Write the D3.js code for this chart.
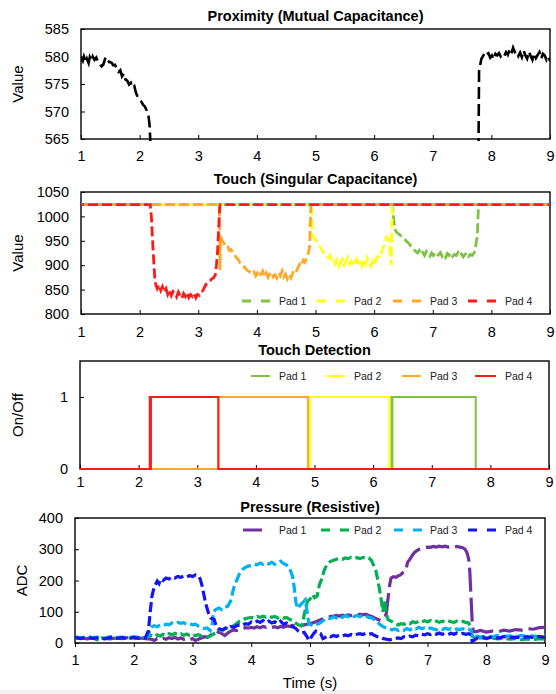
<!DOCTYPE html>
<html>
<head>
<meta charset="utf-8">
<script src="https://cdn.jsdelivr.net/npm/d3@7"></script>
<style>
body { margin: 0; background: #fff; }
svg { display: block; font-family: "Liberation Sans", Arial, sans-serif; }
</style>
</head>
<body>
<svg id="chart"></svg>
<script>
// ---- data ----
const timeTicks = [1, 2, 3, 4, 5, 6, 7, 8, 9];
const padNames = ["Pad 1", "Pad 2", "Pad 3", "Pad 4"];

// proximity (mutual capacitance), null = off the bottom of the scale
const proximity = [[1.00,579.8],[1.03,579.2],[1.05,580.0],[1.08,579.0],[1.10,579.6],[1.13,578.8],[1.15,579.9],[1.18,579.3],[1.20,580.0],[1.23,579.4],[1.26,579.8],[1.29,579.0],[1.32,578.6],[1.35,578.2],[1.38,578.5],[1.42,579.9],[1.45,579.4],[1.48,579.0],[1.52,578.9],[1.55,578.4],[1.58,578.5],[1.61,577.8],[1.64,577.2],[1.67,577.5],[1.70,576.4],[1.73,576.9],[1.76,575.8],[1.79,575.6],[1.82,574.9],[1.85,575.2],[1.88,574.3],[1.91,574.6],[1.94,573.3],[1.97,572.6],[2.00,572.2],[2.03,571.8],[2.06,571.2],[2.09,570.9],[2.12,570.2],[2.15,569.3],[2.17,567.5],[2.19,563.0],
  [5.00,null],
  [7.78,563.0],[7.79,577.3],[7.81,578.5],[7.83,579.6],[7.86,580.1],[7.89,580.8],[7.92,580.4],[7.95,580.6],[7.98,579.8],[8.01,580.2],[8.04,579.5],[8.07,580.5],[8.10,580.2],[8.13,580.6],[8.16,580.0],[8.19,580.4],[8.22,580.1],[8.25,580.8],[8.28,580.3],[8.31,581.2],[8.34,580.5],[8.37,581.6],[8.40,580.8],[8.43,581.0],[8.46,580.1],[8.49,580.7],[8.52,579.9],[8.55,581.1],[8.58,580.2],[8.61,579.6],[8.64,580.9],[8.67,580.1],[8.70,579.4],[8.73,580.6],[8.76,579.7],[8.79,580.3],[8.82,580.8],[8.85,579.6],[8.88,580.5],[8.91,580.2],[8.94,579.4],[8.97,580.0],[9.00,579.2]];

// touch (singular capacitance)
const touchPad1 = [[1,1024],[6.31,1024],[6.33,1000],[6.35,975],[6.38,968],[6.41,965],[6.44,962],[6.47,958],[6.5,955],[6.53,952],[6.56,948],[6.59,945],[6.62,940],[6.65,935],[6.68,932],[6.71,928],[6.74,925],[6.77,930],[6.8,922],[6.83,926],[6.86,920],[6.89,928],[6.92,922],[6.95,918],[6.98,925],[7.01,920],[7.04,924],[7.07,918],[7.1,922],[7.13,926],[7.16,918],[7.19,922],[7.22,916],[7.25,924],[7.28,920],[7.31,925],[7.34,918],[7.37,922],[7.4,920],[7.43,926],[7.46,919],[7.49,923],[7.52,917],[7.55,922],[7.58,925],[7.61,918],[7.64,922],[7.67,920],[7.7,924],[7.72,930],[7.74,945],[7.76,960],[7.78,1024],[9,1024]];
const touchPad2 = [[1,1024],[4.93,1024],[4.95,960],[4.98,955],[5.01,950],[5.04,945],[5.07,940],[5.1,932],[5.13,928],[5.16,922],[5.19,918],[5.22,915],[5.25,920],[5.28,908],[5.31,912],[5.34,902],[5.37,910],[5.4,898],[5.43,906],[5.46,912],[5.49,900],[5.52,908],[5.55,916],[5.58,902],[5.61,908],[5.64,898],[5.67,905],[5.7,912],[5.73,900],[5.76,906],[5.79,898],[5.82,910],[5.85,902],[5.88,915],[5.91,905],[5.94,898],[5.97,908],[6.0,900],[6.03,912],[6.06,918],[6.09,915],[6.12,925],[6.15,935],[6.18,945],[6.21,958],[6.24,955],[6.27,930],[6.29,900],[6.31,1024],[9,1024]];
const touchPad3 = [[1,1024],[3.36,1024],[3.37,890],[3.38,960],[3.41,950],[3.44,945],[3.47,938],[3.5,940],[3.53,930],[3.56,932],[3.59,925],[3.62,922],[3.65,915],[3.68,912],[3.71,905],[3.74,902],[3.77,898],[3.8,895],[3.83,890],[3.86,888],[3.89,885],[3.92,882],[3.95,886],[3.98,878],[4.01,884],[4.04,876],[4.07,882],[4.1,888],[4.13,878],[4.16,884],[4.19,875],[4.22,882],[4.25,886],[4.28,876],[4.31,880],[4.34,874],[4.37,884],[4.4,878],[4.43,888],[4.46,876],[4.49,882],[4.52,872],[4.55,880],[4.58,874],[4.61,884],[4.64,890],[4.67,886],[4.7,895],[4.73,902],[4.76,898],[4.79,910],[4.82,906],[4.85,915],[4.88,925],[4.9,940],[4.92,1024],[9,1024]];
const touchPad4 = [[1,1024],[2.18,1024],[2.2,1000],[2.23,930],[2.26,870],[2.28,858],[2.3,852],[2.33,860],[2.36,848],[2.39,856],[2.42,845],[2.45,852],[2.48,840],[2.51,848],[2.54,838],[2.57,846],[2.6,842],[2.63,835],[2.66,845],[2.69,838],[2.72,832],[2.75,842],[2.78,836],[2.81,844],[2.84,834],[2.87,840],[2.9,836],[2.93,842],[2.96,833],[2.99,840],[3.02,838],[3.05,844],[3.08,848],[3.11,856],[3.14,862],[3.17,866],[3.2,868],[3.23,872],[3.26,874],[3.29,880],[3.31,900],[3.33,930],[3.35,980],[3.37,1024],[9,1024]];

// touch detection (on/off, value holds until the next point)
const detectPad1 = [[1,0],[6.31,1],[6.32,0],[6.33,1],[7.75,0],[9,0]];
const detectPad2 = [[1,0],[4.9,1],[4.91,0],[4.92,1],[6.28,0],[9,0]];
const detectPad3 = [[1,0],[3.36,1],[4.89,0],[9,0]];
const detectPad4 = [[1,0],[2.19,1],[2.2,0],[2.21,1],[3.36,0],[9,0]];

// pressure (resistive ADC)
const pressPad1 = [[1,14],[1.1,17],[1.2,13],[1.3,16],[1.4,12],[1.5,15],[1.6,13],[1.7,16],[1.8,14],[1.9,17],[2.0,14],[2.1,16],[2.2,14],[2.3,12],[2.35,8],[2.4,14],[2.45,10],[2.5,15],[2.55,12],[2.6,17],[2.65,14],[2.7,18],[2.75,13],[2.8,16],[2.85,12],[2.9,15],[2.95,10],[3.0,14],[3.05,8],[3.1,12],[3.15,16],[3.2,20],[3.25,18],[3.3,24],[3.35,32],[3.4,38],[3.45,34],[3.5,30],[3.55,24],[3.6,32],[3.65,38],[3.7,42],[3.75,40],[3.8,45],[3.85,47],[3.9,49],[3.95,48],[4.0,50],[4.05,48],[4.1,52],[4.15,49],[4.2,53],[4.25,50],[4.3,54],[4.35,50],[4.4,52],[4.45,49],[4.5,53],[4.55,50],[4.6,55],[4.65,53],[4.7,56],[4.75,55],[4.8,52],[4.85,56],[4.9,58],[4.95,60],[5.0,62],[5.05,65],[5.1,68],[5.15,72],[5.2,76],[5.25,80],[5.3,82],[5.35,85],[5.4,86],[5.45,88],[5.5,86],[5.55,89],[5.6,87],[5.65,90],[5.7,88],[5.75,91],[5.8,89],[5.85,92],[5.9,90],[5.95,92],[6.0,88],[6.05,85],[6.1,80],[6.15,76],[6.2,72],[6.25,78],[6.28,85],[6.3,95],[6.32,130],[6.34,160],[6.36,190],[6.38,208],[6.42,212],[6.46,210],[6.5,215],[6.54,218],[6.58,225],[6.62,228],[6.64,240],[6.66,258],[6.7,268],[6.74,280],[6.78,290],[6.82,296],[6.86,300],[6.9,303],[6.95,305],[7.0,307],[7.05,306],[7.1,309],[7.15,307],[7.2,310],[7.25,308],[7.3,310],[7.35,307],[7.4,309],[7.45,306],[7.5,309],[7.55,307],[7.6,305],[7.64,300],[7.67,290],[7.7,270],[7.72,230],[7.74,150],[7.76,70],[7.78,38],[7.82,36],[7.9,40],[8.0,35],[8.1,38],[8.2,36],[8.3,41],[8.4,38],[8.5,43],[8.6,41],[8.7,46],[8.8,44],[8.9,49],[9.0,50]];
const pressPad2 = [[1,15],[1.1,18],[1.2,13],[1.3,17],[1.4,8],[1.45,16],[1.5,14],[1.6,18],[1.7,15],[1.8,17],[1.9,14],[2.0,17],[2.1,15],[2.2,18],[2.25,20],[2.3,24],[2.35,20],[2.4,26],[2.45,22],[2.5,28],[2.55,24],[2.6,30],[2.65,26],[2.7,31],[2.75,27],[2.8,30],[2.85,25],[2.9,29],[2.95,24],[3.0,28],[3.05,23],[3.1,27],[3.15,22],[3.2,20],[3.25,18],[3.3,22],[3.35,28],[3.4,33],[3.45,38],[3.5,42],[3.55,46],[3.6,48],[3.65,52],[3.7,55],[3.75,62],[3.8,70],[3.85,75],[3.9,78],[3.95,80],[4.0,82],[4.05,80],[4.1,85],[4.15,82],[4.2,86],[4.25,83],[4.3,87],[4.35,82],[4.4,85],[4.45,80],[4.5,84],[4.55,80],[4.6,82],[4.65,76],[4.7,72],[4.75,65],[4.8,58],[4.85,55],[4.88,62],[4.9,90],[4.93,115],[4.96,135],[5.0,140],[5.04,155],[5.08,145],[5.12,150],[5.16,186],[5.2,205],[5.24,232],[5.28,248],[5.32,258],[5.36,262],[5.4,265],[5.45,268],[5.5,270],[5.55,268],[5.6,272],[5.65,270],[5.7,274],[5.75,271],[5.8,273],[5.85,270],[5.9,274],[5.95,271],[6.0,272],[6.04,266],[6.08,250],[6.12,232],[6.15,205],[6.18,175],[6.21,140],[6.24,100],[6.27,138],[6.3,92],[6.33,75],[6.38,70],[6.42,66],[6.46,62],[6.5,58],[6.55,62],[6.6,60],[6.65,65],[6.7,62],[6.75,68],[6.8,65],[6.85,70],[6.9,67],[6.95,71],[7.0,68],[7.05,72],[7.1,68],[7.15,70],[7.2,66],[7.25,70],[7.3,67],[7.35,71],[7.4,68],[7.45,66],[7.5,70],[7.55,67],[7.6,69],[7.65,66],[7.7,64],[7.74,50],[7.76,22],[7.8,18],[7.85,15],[7.9,17],[8.0,14],[8.1,16],[8.2,13],[8.3,15],[8.4,12],[8.5,14],[8.6,11],[8.7,13],[8.8,10],[8.9,14],[9.0,12]];
const pressPad3 = [[1,20],[1.1,16],[1.2,21],[1.3,17],[1.4,19],[1.5,15],[1.6,20],[1.7,17],[1.8,19],[1.9,16],[2.0,20],[2.1,17],[2.2,19],[2.25,22],[2.28,45],[2.31,52],[2.35,55],[2.4,52],[2.45,58],[2.5,56],[2.55,60],[2.6,58],[2.65,64],[2.7,62],[2.75,66],[2.8,63],[2.85,65],[2.9,60],[2.95,62],[3.0,58],[3.05,60],[3.1,54],[3.15,50],[3.2,46],[3.25,48],[3.3,40],[3.33,55],[3.36,100],[3.4,108],[3.45,112],[3.5,106],[3.55,114],[3.6,118],[3.65,135],[3.7,175],[3.75,200],[3.8,222],[3.85,235],[3.9,242],[3.95,246],[4.0,248],[4.05,252],[4.1,250],[4.15,256],[4.2,252],[4.25,257],[4.3,253],[4.35,258],[4.4,252],[4.45,256],[4.5,262],[4.55,254],[4.6,250],[4.65,240],[4.7,215],[4.73,180],[4.76,130],[4.79,110],[4.82,118],[4.85,125],[4.88,130],[4.92,138],[4.95,100],[4.98,62],[5.02,58],[5.06,55],[5.1,60],[5.15,62],[5.2,68],[5.25,75],[5.3,80],[5.35,78],[5.4,84],[5.45,80],[5.5,86],[5.55,82],[5.6,88],[5.65,84],[5.7,90],[5.75,85],[5.8,88],[5.85,84],[5.9,90],[5.95,86],[6.0,82],[6.05,80],[6.1,74],[6.15,66],[6.2,58],[6.25,52],[6.3,48],[6.35,44],[6.4,42],[6.45,45],[6.5,40],[6.55,44],[6.6,41],[6.65,46],[6.7,42],[6.75,48],[6.8,45],[6.85,50],[6.9,46],[6.95,48],[7.0,44],[7.05,48],[7.1,45],[7.15,42],[7.2,46],[7.25,43],[7.3,47],[7.35,44],[7.4,46],[7.45,42],[7.5,45],[7.55,43],[7.6,46],[7.65,42],[7.7,44],[7.74,40],[7.77,15],[7.8,18],[7.85,22],[7.9,19],[8.0,23],[8.1,20],[8.2,24],[8.3,21],[8.4,23],[8.5,20],[8.6,24],[8.7,21],[8.8,23],[8.9,20],[9.0,24]];
const pressPad4 = [[1,18],[1.1,14],[1.2,19],[1.3,15],[1.4,17],[1.5,13],[1.6,18],[1.7,15],[1.8,17],[1.9,14],[2.0,18],[2.1,15],[2.2,17],[2.25,40],[2.28,100],[2.31,150],[2.35,180],[2.4,198],[2.43,190],[2.46,205],[2.5,200],[2.55,208],[2.6,205],[2.65,212],[2.7,208],[2.75,213],[2.8,210],[2.85,214],[2.9,211],[2.95,216],[3.0,213],[3.05,218],[3.1,215],[3.13,205],[3.16,185],[3.19,158],[3.22,130],[3.25,110],[3.28,90],[3.31,80],[3.34,78],[3.37,75],[3.4,55],[3.44,46],[3.48,44],[3.52,42],[3.56,48],[3.6,45],[3.65,52],[3.7,50],[3.75,55],[3.8,58],[3.85,56],[3.9,62],[3.95,60],[4.0,67],[4.05,64],[4.1,70],[4.15,66],[4.2,72],[4.25,65],[4.3,70],[4.35,64],[4.4,68],[4.45,62],[4.5,70],[4.55,60],[4.6,64],[4.65,56],[4.7,52],[4.75,48],[4.8,38],[4.85,32],[4.9,34],[4.95,20],[4.98,8],[5.02,18],[5.06,30],[5.1,38],[5.14,32],[5.18,30],[5.22,14],[5.26,18],[5.3,24],[5.35,20],[5.4,24],[5.45,21],[5.5,25],[5.55,22],[5.6,26],[5.65,23],[5.7,27],[5.75,24],[5.8,28],[5.85,30],[5.9,27],[5.95,31],[6.0,28],[6.05,30],[6.1,24],[6.15,20],[6.2,18],[6.25,14],[6.3,12],[6.35,10],[6.4,12],[6.45,14],[6.5,16],[6.55,14],[6.6,20],[6.65,18],[6.7,22],[6.75,20],[6.8,25],[6.85,23],[6.9,28],[6.95,26],[7.0,30],[7.05,27],[7.1,31],[7.15,28],[7.2,32],[7.25,28],[7.3,30],[7.35,27],[7.4,31],[7.45,28],[7.5,32],[7.55,29],[7.6,31],[7.65,28],[7.7,30],[7.74,25],[7.76,5],[7.8,10],[7.85,16],[7.9,14],[7.95,18],[8.0,15],[8.1,19],[8.2,16],[8.3,20],[8.4,17],[8.5,19],[8.6,16],[8.7,20],[8.8,17],[8.9,21],[9.0,18]];

const touchColors = ["#7dc242", "#ffff1a", "#ffa726", "#ff1a1a"];
const pressColors = ["#7030a0", "#00b050", "#00b0f0", "#1414f5"];

// ---- drawing ----
const W = 556, H = 694;
const svg = d3.select("#chart").attr("width", W).attr("height", H);
svg.append("rect").attr("width", W).attr("height", H).attr("fill", "#fff");
svg.append("rect").attr("y", 690).attr("width", W).attr("height", 4).attr("fill", "#f1f1f1");

let clipId = 0;
// sets up one panel: scales, frame, axes, title, y label
function panel(cfg) {
    let x = d3.scaleLinear().domain([1, 9]).range([cfg.left, cfg.right]);
    let y = d3.scaleLinear().domain(cfg.yDomain).range([cfg.bottom, cfg.top]);
    let g = svg.append("g");
    let id = "clip" + (clipId++);
    g.append("clipPath").attr("id", id)
        .append("rect")
        .attr("x", cfg.left).attr("y", cfg.top - 2)
        .attr("width", cfg.right - cfg.left).attr("height", cfg.bottom - cfg.top + 4);

    let xAxis = d3.axisBottom(x).tickValues(timeTicks).tickFormat(d3.format("d"))
        .tickSizeInner(cfg.xTick).tickSizeOuter(0).tickPadding(cfg.xPad);
    let yAxis = d3.axisLeft(y).tickValues(cfg.yTicks).tickFormat(d3.format("d"))
        .tickSizeInner(-4).tickSizeOuter(0).tickPadding(12);

    let gx = g.append("g").attr("transform", `translate(0,${cfg.bottom})`).call(xAxis);
    let gy = g.append("g").attr("transform", `translate(${cfg.left},0)`).call(yAxis);
    [gx, gy].forEach(a => {
        a.select(".domain").remove();
        a.selectAll("line").attr("stroke", "#000").attr("stroke-width", 1);
        a.selectAll("text").attr("font-size", 14.5).attr("fill", "#000")
            .attr("font-family", "Liberation Sans, Arial, sans-serif");
    });

    g.append("rect")
        .attr("x", cfg.left).attr("y", cfg.top)
        .attr("width", cfg.right - cfg.left).attr("height", cfg.bottom - cfg.top)
        .attr("fill", "none").attr("stroke", "#000").attr("stroke-width", 1.4);

    g.append("text")
        .attr("x", (cfg.left + cfg.right) / 2).attr("y", cfg.titleY)
        .attr("text-anchor", "middle").attr("font-size", 14.5).attr("font-weight", "bold")
        .text(cfg.title);

    g.append("text")
        .attr("transform", `translate(${cfg.labelX},${(cfg.top + cfg.bottom) / 2}) rotate(-90)`)
        .attr("text-anchor", "middle").attr("font-size", 15)
        .text(cfg.yLabel);

    let plot = g.append("g").attr("clip-path", `url(#${id})`);
    return { x, y, g, plot };
}

function legend(g, items, y, textX, lineFrom, lineLen) {
    items.forEach((it, i) => {
        let tx = textX[i];
        g.append("line")
            .attr("x1", tx - lineFrom[i]).attr("x2", tx - lineFrom[i] + lineLen[i])
            .attr("y1", y).attr("y2", y)
            .attr("stroke", it.color).attr("stroke-width", it.width)
            .attr("stroke-dasharray", it.dash || null);
        g.append("text")
            .attr("x", tx).attr("y", y).attr("dy", "0.35em")
            .attr("font-size", 10.5).attr("fill", "#222")
            .text(it.name);
    });
}
const legendTextX = [279, 354, 430, 505];

// panel 1: proximity
let p1 = panel({ left: 81, right: 550, top: 29, bottom: 139, yDomain: [565, 585],
    yTicks: [565, 570, 575, 580, 585], xTick: -4, xPad: 12, title: "Proximity (Mutual Capacitance)",
    titleY: 21, yLabel: "Value", labelX: 23 });
p1.plot.append("path")
    .attr("d", d3.line().defined(d => d[1] !== null).x(d => p1.x(d[0])).y(d => p1.y(d[1]))(proximity))
    .attr("fill", "none").attr("stroke", "#000").attr("stroke-width", 2.6)
    .attr("stroke-dasharray", "12,5");

// panel 2: touch
let p2 = panel({ left: 81, right: 550, top: 192, bottom: 314, yDomain: [800, 1050],
    yTicks: [800, 850, 900, 950, 1000, 1050], xTick: -4, xPad: 13, title: "Touch (Singular Capacitance)",
    titleY: 184, yLabel: "Value", labelX: 23 });
[touchPad1, touchPad2, touchPad3, touchPad4].forEach((s, i) => {
    p2.plot.append("path")
        .attr("d", d3.line().x(d => p2.x(d[0])).y(d => p2.y(d[1]))(s))
        .attr("fill", "none").attr("stroke", touchColors[i]).attr("stroke-width", 2.8)
        .attr("stroke-dasharray", "10,4").attr("stroke-dashoffset", i * 7);
});
legend(p2.g, padNames.map((n, i) => ({ name: n, color: touchColors[i], width: 2.8, dash: "9,10" })),
    301, legendTextX, [37, 37, 37, 37], [28, 28, 28, 28]);

// panel 3: touch detection
let p3 = panel({ left: 80, right: 549, top: 361, bottom: 469, yDomain: [0, 1.5],
    yTicks: [0, 1], xTick: -4, xPad: 8, title: "Touch Detection",
    titleY: 355, yLabel: "On/Off", labelX: 23 });
[detectPad1, detectPad2, detectPad3, detectPad4].forEach((s, i) => {
    p3.plot.append("path")
        .attr("d", d3.line().curve(d3.curveStepAfter).x(d => p3.x(d[0])).y(d => p3.y(d[1]))(s))
        .attr("fill", "none").attr("stroke", touchColors[i]).attr("stroke-width", 2);
});
legend(p3.g, padNames.map((n, i) => ({ name: n, color: touchColors[i], width: 2 })),
    376, legendTextX, [28, 28, 28, 30], [19, 19, 19, 21]);

// panel 4: pressure
let p4 = panel({ left: 75, right: 545, top: 518, bottom: 643, yDomain: [0, 400],
    yTicks: [0, 100, 200, 300, 400], xTick: 4, xPad: 8, title: "Pressure (Resistive)",
    titleY: 512, yLabel: "ADC", labelX: 27 });
const pressDash = ["24,6", "10,4", "10,4", "10,4"];
[pressPad1, pressPad2, pressPad3, pressPad4].forEach((s, i) => {
    p4.plot.append("path")
        .attr("d", d3.line().x(d => p4.x(d[0])).y(d => p4.y(d[1]))(s))
        .attr("fill", "none").attr("stroke", pressColors[i]).attr("stroke-width", 3.2)
        .attr("stroke-dasharray", pressDash[i]);
});
legend(p4.g, padNames.map((n, i) => ({ name: n, color: pressColors[i], width: 3,
        dash: i === 0 ? null : "9,10" })),
    530, legendTextX, [36, 33, 36, 37], [19, 28, 28, 28]);

svg.append("text")
    .attr("x", 310).attr("y", 688)
    .attr("text-anchor", "middle").attr("font-size", 15)
    .text("Time (s)");
</script>
</body>
</html>
